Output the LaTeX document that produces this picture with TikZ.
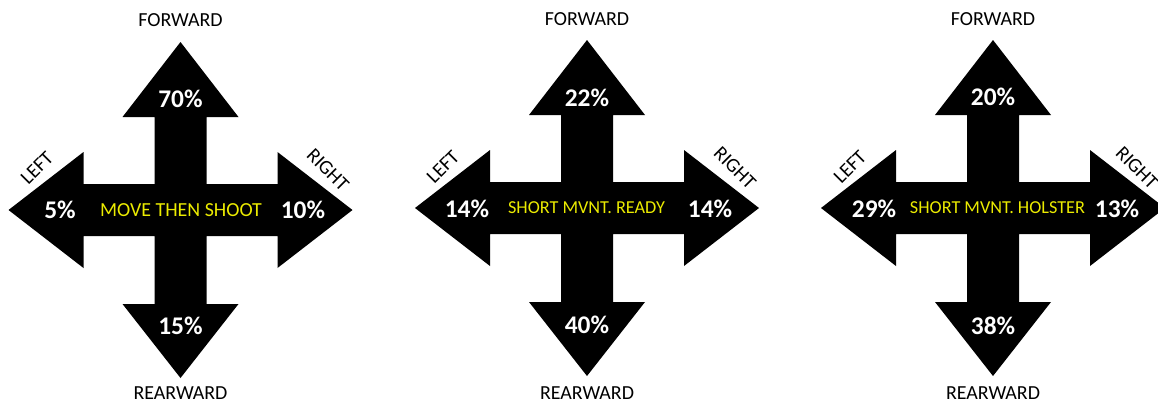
\documentclass[tikz,border=0pt]{standalone}
\usepackage{fontspec}
\setmainfont{Carlito}
\usetikzlibrary{positioning}
\definecolor{drillyellow}{RGB}{235,235,0}

\tikzset{
  crossarrow/.style={fill=black,draw=none},
  dirlabel/.style={font=\fontsize{20}{20}\selectfont,text=black,inner sep=0pt},
  pct/.style={font=\fontsize{25.5}{25.5}\selectfont\bfseries,text=white,inner sep=0pt},
  drill/.style={font=\fontsize{20}{20}\selectfont,text=drillyellow,inner sep=0pt},
}

\begin{document}
\begin{tikzpicture}[x=1bp,y=-1bp]
\useasboundingbox[fill=white] (0,0) rectangle (1158,404);
%%
\foreach \cx/\cy in {180.5/210, 587/208, 993/208}{
  \fill[crossarrow,shift={(\cx,\cy)}] (0,-168) -- (58,-93) -- (26,-93) -- (26,-26) -- (97,-26) -- (97,-58)
    -- (172,0) -- (97,58) -- (97,26) -- (26,26) -- (26,94) -- (58,94) -- (0,168) -- (-58,94)
    -- (-26,94) -- (-26,26) -- (-97,26) -- (-97,58) -- (-172,0) -- (-97,-58) -- (-97,-26)
    -- (-26,-26) -- (-26,-93) -- (-58,-93) -- cycle;
}
%
\node (fwd_1) at (180.5,20) [dirlabel] {FORWARD};
\node (rear_1) at (180.5,393.5) [dirlabel] {REARWARD};
\node (left_1) at (37,168) [dirlabel,rotate=45] {LEFT};
\node (right_1) at (328,170) [dirlabel,rotate=-45] {RIGHT};
\node (up_1) at (180.5,99) [pct] {70\%};
\node (down_1) at (180.5,326) [pct] {15\%};
\node (west_1) at (60,210) [pct] {5\%};
\node (east_1) at (303,210) [pct] {10\%};
\node (drill_1) at (181,210) [drill] {MOVE THEN SHOOT};
%
\node (fwd_2) at (587,19) [dirlabel] {FORWARD};
\node (rear_2) at (587,393.5) [dirlabel] {REARWARD};
\node (left_2) at (443,167) [dirlabel,rotate=45] {LEFT};
\node (right_2) at (735,168) [dirlabel,rotate=-45] {RIGHT};
\node (up_2) at (587,98) [pct] {22\%};
\node (down_2) at (587,325) [pct] {40\%};
\node (west_2) at (467,209) [pct] {14\%};
\node (east_2) at (710,209) [pct] {14\%};
\node (drill_2) at (586.5,208) [drill,font=\fontsize{18.3}{18.3}\selectfont] {SHORT MVNT. READY};
%
\node (fwd_3) at (993,19) [dirlabel] {FORWARD};
\node (rear_3) at (993,393.5) [dirlabel] {REARWARD};
\node (left_3) at (850,167) [dirlabel,rotate=45] {LEFT};
\node (right_3) at (1137,168) [dirlabel,rotate=-45] {RIGHT};
\node (up_3) at (993,97) [pct] {20\%};
\node (down_3) at (993,326) [pct] {38\%};
\node (west_3) at (874,209) [pct] {29\%};
\node (east_3) at (1117,209) [pct] {13\%};
\node (drill_3) at (997.5,208) [drill,font=\fontsize{18.3}{18.3}\selectfont] {SHORT MVNT. HOLSTER};
%
\end{tikzpicture}
\end{document}
